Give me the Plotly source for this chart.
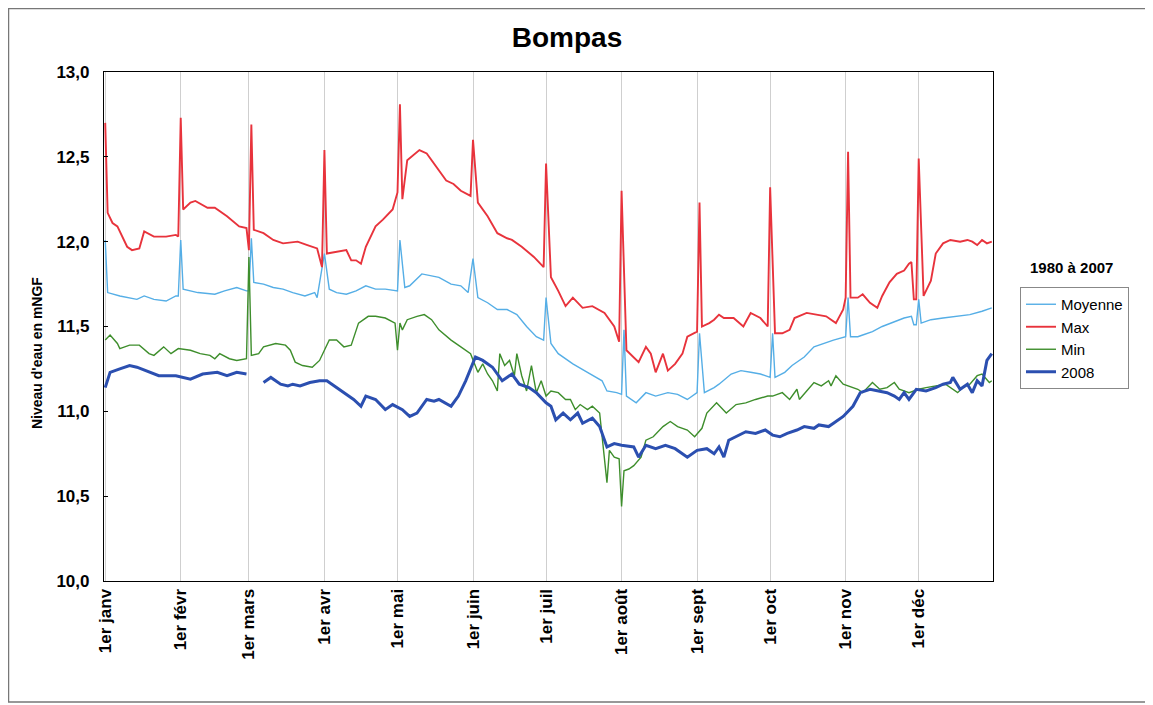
import plotly.graph_objects as go

# ---------------- data (day of year, value in m NGF) ----------------
month_days = [1, 32, 60, 91, 121, 152, 182, 213, 244, 274, 305, 335]
month_labels = ["1er janv", "1er févr", "1er mars", "1er avr", "1er mai", "1er juin",
                "1er juil", "1er août", "1er sept", "1er oct", "1er nov", "1er déc"]
y_ticks = [10.0, 10.5, 11.0, 11.5, 12.0, 12.5, 13.0]

max_days = [1, 2, 4, 6, 10, 12, 15, 17, 21, 26, 30, 31, 32, 33, 36, 38, 43, 46, 51, 56, 59, 60,
            61, 62, 66, 70, 74, 80, 84, 88, 90, 91, 92, 96, 100, 102, 104, 106, 108, 112, 115,
            119, 121, 122, 123, 125, 130, 133, 137, 141, 144, 147, 151, 152, 154, 158, 162,
            166, 168, 172, 177, 181, 182, 184, 187, 190, 193, 197, 201, 206, 210, 212, 213,
            215, 220, 223, 225, 227, 230, 232, 235, 238, 240, 244, 245, 246, 249, 251, 253,
            255, 259, 263, 266, 270, 273, 274, 276, 279, 282, 284, 289, 293, 297, 301, 304,
            305, 306, 307, 310, 312, 315, 318, 320, 323, 326, 329, 331, 332, 333, 334, 335,
            337, 340, 342, 345, 348, 352, 355, 357, 359, 361, 363, 365]
max_vals = [12.70, 12.17, 12.11, 12.09, 11.97, 11.95, 11.96, 12.06, 12.03, 12.03, 12.04, 12.03,
            12.73, 12.19, 12.23, 12.24, 12.20, 12.20, 12.15, 12.09, 12.08, 11.95,
            12.69, 12.07, 12.05, 12.01, 11.99, 12.00, 11.98, 11.96, 11.85, 12.54, 11.93, 11.94,
            11.95, 11.89, 11.89, 11.87, 11.97, 12.09, 12.13,
            12.19, 12.29, 12.81, 12.25, 12.48, 12.54, 12.52, 12.44, 12.36, 12.34, 12.30, 12.27,
            12.60, 12.23, 12.15, 12.05,
            12.02, 12.01, 11.97, 11.91, 11.85, 12.46, 11.79, 11.71, 11.62, 11.67, 11.61, 11.62,
            11.58, 11.50, 11.41, 12.30,
            11.36, 11.29, 11.38, 11.34, 11.23, 11.34, 11.24, 11.28, 11.34, 11.44, 11.47, 12.23,
            11.50, 11.52, 11.54, 11.57,
            11.55, 11.55, 11.50, 11.58, 11.55, 11.50, 12.32, 11.46, 11.46, 11.48, 11.55, 11.58,
            11.57, 11.56, 11.52, 11.60,
            11.67, 12.53, 11.67, 11.67, 11.69, 11.64, 11.61, 11.68, 11.76, 11.81, 11.83, 11.87,
            11.88, 11.66, 11.66, 12.49,
            11.68, 11.77, 11.93, 11.99, 12.01, 12.00, 12.01, 12.00, 11.98, 12.01, 11.99, 12.00]

mean_days = [1, 2, 7, 11, 14, 17, 21, 26, 30, 31, 32, 33, 39, 46, 50, 55, 59, 60, 61, 62, 66,
             70, 74, 78, 83, 87, 88, 91, 93, 96, 100, 104, 108, 112, 116, 121, 122, 124, 126,
             131, 134, 138, 143, 147, 150, 152, 154, 158, 162, 166, 170, 174, 178, 181, 182,
             184, 187, 193, 199, 205, 207, 211, 213, 214, 215, 219, 223, 227, 232, 236, 240,
             244, 245, 247, 251, 253, 258, 262, 266, 270, 274, 275, 276, 280, 283, 288, 292,
             296, 300, 305, 306, 307, 310, 312, 316, 320, 325, 329, 332, 333, 334, 335, 336,
             340, 345, 351, 356, 361, 365]
mean_vals = [12.01, 11.70, 11.68, 11.67, 11.66, 11.68, 11.66, 11.65, 11.68, 11.68, 12.01, 11.72,
             11.70, 11.69, 11.71, 11.73, 11.71, 11.71, 12.02, 11.76, 11.75,
             11.73, 11.72, 11.70, 11.68, 11.70, 11.67, 11.93, 11.72, 11.70, 11.69, 11.71, 11.74,
             11.72, 11.72, 11.71, 12.01, 11.73, 11.74,
             11.81, 11.80, 11.79, 11.75, 11.74, 11.70, 11.90, 11.67, 11.64, 11.60, 11.60, 11.57,
             11.50, 11.44, 11.42, 11.67,
             11.40, 11.34, 11.28, 11.23, 11.18, 11.12, 11.11, 11.10, 11.48, 11.09, 11.05, 11.11,
             11.09, 11.11, 11.10, 11.07,
             11.11, 11.46, 11.11, 11.14, 11.16, 11.22, 11.24, 11.23, 11.22, 11.20, 11.46, 11.20,
             11.23, 11.27, 11.32, 11.38,
             11.40, 11.42, 11.44, 11.67, 11.44, 11.44, 11.45, 11.47, 11.50, 11.53, 11.55, 11.56,
             11.51, 11.51, 11.66, 11.52,
             11.54, 11.55, 11.56, 11.57, 11.59, 11.61]

min_days = [1, 3, 6, 7, 11, 15, 19, 21, 25, 28, 31, 36, 40, 44, 46, 48, 52, 55, 59, 60, 61, 64,
            66, 71, 75, 77, 79, 82, 86, 89, 93, 96, 99, 102, 105, 109, 112, 116, 120, 121, 122,
            123, 125, 129, 132, 135, 138, 143, 147, 151, 154, 156, 158, 160, 162, 163, 165, 167,
            169, 170, 172, 174, 176, 178, 180, 182, 184, 187, 190, 192, 194, 196, 199, 201,
            204, 207, 208, 210, 212, 213, 214, 216, 218, 221, 223, 226, 230, 233, 236, 240,
            243, 246, 248, 252, 256, 260, 264, 268, 273, 275, 279, 282, 285, 286, 289, 292,
            295, 298, 299, 301, 304, 308, 310, 312, 316, 319, 322, 325, 327, 331, 335, 338,
            342, 346, 351, 353, 356, 359, 361, 364, 365]
min_vals = [11.42, 11.45, 11.40, 11.37, 11.39, 11.39, 11.34, 11.33, 11.38, 11.34, 11.37, 11.36,
            11.34, 11.33, 11.31, 11.34, 11.31, 11.30, 11.31, 11.91, 11.33, 11.34,
            11.38, 11.40, 11.39, 11.36, 11.29, 11.27, 11.26, 11.30, 11.42, 11.42, 11.38, 11.39,
            11.52, 11.56, 11.56, 11.55, 11.52, 11.36, 11.52,
            11.48, 11.54, 11.56, 11.57, 11.54, 11.48, 11.42, 11.38, 11.34, 11.23, 11.28, 11.22,
            11.18, 11.12, 11.34, 11.27, 11.30,
            11.21, 11.34, 11.21, 11.12, 11.27, 11.11, 11.18, 11.09, 11.12, 11.11, 11.07, 11.07,
            11.01, 11.04, 11.01, 11.03,
            10.99, 10.58, 10.77, 10.73, 10.72, 10.44, 10.65, 10.66, 10.68, 10.73, 10.83, 10.85,
            10.91, 10.94, 10.91, 10.89,
            10.85, 10.90, 10.99, 11.05, 10.99, 11.04, 11.05, 11.07, 11.09, 11.09, 11.11, 11.07,
            11.13, 11.07, 11.12, 11.17,
            11.15, 11.18, 11.15, 11.21, 11.16, 11.14, 11.13, 11.11, 11.17, 11.13, 11.14, 11.17,
            11.13, 11.11, 11.13, 11.14,
            11.15, 11.16, 11.11, 11.14, 11.16, 11.21, 11.22, 11.17, 11.18]

y2008_days = [1, 3, 7, 11, 14, 19, 23, 30, 36, 41, 47, 51, 55, 59, 62,
              66, 69, 73, 76, 78, 81, 85, 89, 92, 94, 99, 103, 106, 108, 112, 116, 119, 123,
              126, 129, 133, 136, 138, 143, 146, 149, 153, 156, 160, 162, 164, 168, 171, 175,
              178, 182, 184, 186, 189, 192, 195, 197, 201, 204, 207, 210, 213, 218, 220, 223,
              227, 231, 235, 240, 244, 248, 251, 253, 255, 257, 260, 264, 268, 272, 275, 278,
              281, 285, 288, 292, 294, 298, 300, 304, 308, 311, 315, 319, 322, 325, 327, 329,
              331, 334, 338, 342, 345, 348, 349, 352, 355, 357, 359, 361, 363, 365]
y2008_vals = [11.14, 11.23, 11.25, 11.27, 11.26, 11.23, 11.21, 11.21, 11.19, 11.22, 11.23, 11.21,
              11.23, 11.22, None,
              11.17, 11.20, 11.16, 11.15, 11.16, 11.15, 11.17, 11.18, 11.18, 11.16, 11.11, 11.07,
              11.03, 11.09, 11.07, 11.01, 11.04, 11.01,
              10.97, 10.99, 11.07, 11.06, 11.07, 11.03, 11.09, 11.18, 11.32, 11.30, 11.26, 11.22,
              11.18, 11.22, 11.16, 11.14,
              11.11, 11.05, 11.03, 10.95, 10.99, 10.95, 10.99, 10.93, 10.96, 10.91, 10.79, 10.81,
              10.80, 10.79, 10.73, 10.80,
              10.78, 10.80, 10.78, 10.73, 10.77, 10.78, 10.75, 10.79, 10.73, 10.83, 10.85, 10.88,
              10.87, 10.89, 10.86, 10.85,
              10.87, 10.89, 10.91, 10.90, 10.92, 10.91, 10.93, 10.97, 11.03, 11.11, 11.13, 11.12,
              11.11, 11.09, 11.07, 11.11,
              11.07, 11.13, 11.12, 11.14, 11.16, 11.17, 11.20, 11.13, 11.16, 11.11, 11.18, 11.15,
              11.30, 11.34]

FONT = "Arial, Liberation Sans, sans-serif"

fig = go.Figure()
fig.add_trace(go.Scatter(x=mean_days, y=mean_vals, mode="lines", name="Moyenne",
                         line=dict(color="#55AEE6", width=1.4)))
fig.add_trace(go.Scatter(x=max_days, y=max_vals, mode="lines", name="Max",
                         line=dict(color="#E8333C", width=1.9)))
fig.add_trace(go.Scatter(x=min_days, y=min_vals, mode="lines", name="Min",
                         line=dict(color="#3E8E2C", width=1.4)))
fig.add_trace(go.Scatter(x=y2008_days, y=y2008_vals, mode="lines", name="2008",
                         connectgaps=False,
                         line=dict(color="#2B4FB0", width=3)))

# page offset of the figure (default body margin of the html page)
OFF = 8
PL, PR, PT, PB = 104, 993, 72, 581          # plot area in page pixels
W, H = 1153 - OFF, 705 - OFF
L, T = PL - OFF, PT - OFF
R = W - L - (PR - PL)
B = H - T - (PB - PT)
pw, ph = PR - PL, PB - PT

def px(x):
    return (x - PL) / pw

def py(y):
    return (PB - y) / ph

fig.update_layout(
    width=W, height=H,
    margin=dict(l=L, r=R, t=T, b=B),
    paper_bgcolor="white", plot_bgcolor="white",
    separators=", ",
    font=dict(family=FONT, color="black"),
    title=dict(text="<b>Bompas</b>", x=px(567), xref="paper", y=1 - (37 - OFF) / H,
               xanchor="center", yanchor="middle",
               font=dict(size=28, family=FONT, color="black")),
    showlegend=True,
    legend=dict(x=px(1020), y=py(287), xanchor="left", yanchor="top",
                bgcolor="white", bordercolor="#888888", borderwidth=1,
                font=dict(size=15, family=FONT, color="black"),
                itemwidth=30, tracegroupgap=0),
    annotations=[
        dict(text="<b>1980 à 2007</b>", x=px(1071), y=py(267), xref="paper",
             yref="paper", showarrow=False, xanchor="center", yanchor="middle",
             font=dict(size=15, family=FONT, color="black")),
        dict(text="<b>Niveau d'eau en mNGF</b>", x=px(37), y=py(353), xref="paper",
             yref="paper", showarrow=False, xanchor="center", yanchor="middle",
             textangle=-90, font=dict(size=14, family=FONT, color="black")),
    ],
    shapes=[dict(type="rect", xref="paper", yref="paper",
                 x0=px(OFF + 0.5), x1=px(1148), y0=py(702), y1=py(OFF + 0.5),
                 line=dict(color="#777777", width=1.5), layer="below")],
)
fig.update_xaxes(range=[0.5, 365.5], tickmode="array", tickvals=month_days,
                 ticktext=["<b>%s</b>" % t for t in month_labels], tickangle=-90,
                 tickfont=dict(size=17, family=FONT, color="black"),
                 showgrid=True, gridcolor="#CFCFCF", gridwidth=1,
                 showline=True, linecolor="black", linewidth=1.2, mirror=True,
                 ticks="", zeroline=False)
fig.update_yaxes(range=[10, 13], tickmode="array", tickvals=y_ticks,
                 ticktext=["<b>%s</b>" % ("%.1f" % v).replace(".", ",") for v in y_ticks],
                 tickfont=dict(size=17, family=FONT, color="black"),
                 ticklabelstandoff=10,
                 showgrid=False, showline=True, linecolor="black", linewidth=1.2,
                 mirror=True, ticks="inside", ticklen=4, tickcolor="black", zeroline=False)

fig.write_html("out.html")
